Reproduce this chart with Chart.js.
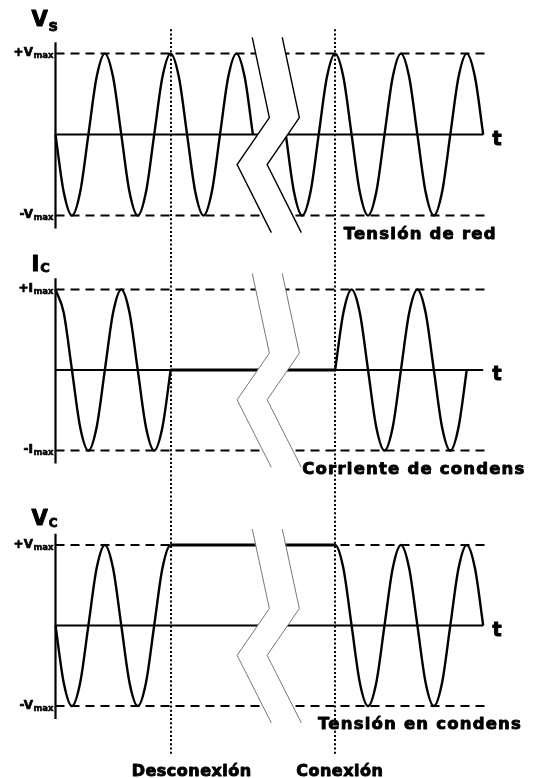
<!DOCTYPE html>
<html>

<head>
  <meta charset="UTF-8" />
  <title>Tensión y corriente del condensador</title>
  <script src="https://cdn.jsdelivr.net/npm/chart.js"></script>
  <style>
    body { margin: 0; background: #fff; }
    .wrap { position: relative; width: 539px; height: 778px; }
  </style>
</head>

<body>
  <div class="wrap"><canvas id="chart"></canvas></div>
  <script>
    // tiempo en periodos de red (muestras cada 1/8 de periodo)
    const tLeft = [0, 0.125, 0.25, 0.375, 0.5, 0.625, 0.75, 0.875, 1, 1.125, 1.25, 1.375, 1.5, 1.625, 1.75, 1.875, 2, 2.125, 2.25, 2.375, 2.5, 2.625, 2.75, 2.875, 3];
    const tRight = [3.5, 3.625, 3.75, 3.875, 4, 4.125, 4.25, 4.375, 4.5, 4.625, 4.75, 4.875, 5, 5.125, 5.25, 5.375, 5.5, 5.625, 5.75, 5.875, 6, 6.125, 6.25, 6.375, 6.5];

    // Vs - tensión de red (normalizada a Vmax)
    const vsLeft = [0, -0.71, -1, -0.71, 0, 0.71, 1, 0.71, 0, -0.71, -1, -0.71, 0, 0.71, 1, 0.71, 0, -0.71, -1, -0.71, 0, 0.71, 1, 0.71, 0];
    const vsRight = [0, -0.71, -1, -0.71, 0, 0.71, 1, 0.71, 0, -0.71, -1, -0.71, 0, 0.71, 1, 0.71, 0, -0.71, -1, -0.71, 0, 0.71, 1, 0.71, 0];

    // Ic - corriente de condensador (normalizada a Imax)
    const tIcOn = [0, 0.125, 0.25, 0.375, 0.5, 0.625, 0.75, 0.875, 1, 1.125, 1.25, 1.375, 1.5, 1.625, 1.75];
    const icOn = [1, 0.71, 0, -0.71, -1, -0.71, 0, 0.71, 1, 0.71, 0, -0.71, -1, -0.71, 0];
    const tIcOff = [1.75, 4.25];
    const icOff = [0, 0];
    const tIcBack = [4.25, 4.375, 4.5, 4.625, 4.75, 4.875, 5, 5.125, 5.25, 5.375, 5.5, 5.625, 5.75, 5.875, 6, 6.125, 6.25];
    const icBack = [0, 0.71, 1, 0.71, 0, -0.71, -1, -0.71, 0, 0.71, 1, 0.71, 0, -0.71, -1, -0.71, 0];

    // Vc - tensión en condensador (se queda cargado a +Vmax mientras está desconectado)
    const tVc = [0, 0.125, 0.25, 0.375, 0.5, 0.625, 0.75, 0.875, 1, 1.125, 1.25, 1.375, 1.5, 1.625, 1.75,
      4.25, 4.375, 4.5, 4.625, 4.75, 4.875, 5, 5.125, 5.25, 5.375, 5.5, 5.625, 5.75, 5.875, 6, 6.125, 6.25, 6.375, 6.5];
    const vc = [0, -0.71, -1, -0.71, 0, 0.71, 1, 0.71, 0, -0.71, -1, -0.71, 0, 0.71, 1,
      1, 0.71, 0, -0.71, -1, -0.71, 0, 0.71, 1, 0.71, 0, -0.71, -1, -0.71, 0, 0.71, 1, 0.71, 0];

    // referencias
    const limitLevels = [1, -1];
    const limitT = [0, 6.6];
    const zeroT = [0, 6.5];
    const axisV = [1.14, -1.16];
    const eventT = [1.75, 4.25];
    const eventLabels = ['Desconexión', 'Conexión'];
    const breakT = [2.99, 3.25, 2.76, 3.28];
    const breakV = [1.2, 0.21, -0.37, -1.21];
    const breakGap = 0.456;

    // textos
    const symbols = [['V', 's'], ['I', 'C'], ['V', 'C']];
    const limitNames = [['+V', '-V'], ['+I', '-I'], ['+V', '-V']];
    const captions = ['Tensión de red', 'Corriente de condens', 'Tensión en condens'];

    // layout
    const W = 539, H = 778;
    const X0_PX = 55.5, PERIOD_PX = 65.8;
    const FONT = '"DejaVu Sans"';
    const PANELS = [
      { axis: 'y1', zero: 134.6, unit: 81, titleV: 1.34, subSize: 15, subDy: 5, capT: 4.38, brkColor: '#000', brkWidth: 1.4 },
      { axis: 'y2', zero: 370, unit: 80.5, titleV: 1.23, subSize: 13, subDy: 1, capT: 3.75, brkColor: '#777', brkWidth: 1 },
      { axis: 'y3', zero: 625.5, unit: 80.5, titleV: 1.25, subSize: 12, subDy: 2, capT: 3.99, brkColor: '#777', brkWidth: 1 }
    ];

    const pts = (ts, vs) => ts.map((t, i) => ({ x: t, y: vs[i] }));

    function trace(data, yAxisID, extra) {
      return Object.assign({
        data, yAxisID, showLine: true, pointRadius: 0, borderColor: '#000',
        borderWidth: 2, tension: 0, fill: false
      }, extra);
    }
    const wave = { borderWidth: 2.4, cubicInterpolationMode: 'monotone', borderJoinStyle: 'round', order: 3 };
    const flat = { borderWidth: 3.2, order: 3 };

    const datasets = [];
    PANELS.forEach(p => {
      limitLevels.forEach(lv => {
        datasets.push(trace(pts(limitT, [lv, lv]), p.axis, { borderDash: [9, 6], order: 4 }));
      });
      datasets.push(trace(pts(zeroT, [0, 0]), p.axis, { order: 4 }));
      datasets.push(trace(pts([0, 0], axisV), p.axis, { borderWidth: 2.2, order: 4 }));

      // corte del eje de tiempo: banda blanca en zigzag y sus dos bordes
      const edge1 = pts(breakT, breakV);
      const edge2 = breakT.map((t, k) => ({ x: t + breakGap, y: breakV[k] }));
      datasets.push(trace(edge1.concat(edge2.slice().reverse()), p.axis, {
        fill: 'shape', backgroundColor: '#fff', borderWidth: 0, order: 2
      }));
      datasets.push(trace(edge1, p.axis, { borderColor: p.brkColor, borderWidth: p.brkWidth, order: 1 }));
      datasets.push(trace(edge2, p.axis, { borderColor: p.brkColor, borderWidth: p.brkWidth, order: 1 }));
    });

    datasets.push(trace(pts(tLeft, vsLeft), 'y1', wave));
    datasets.push(trace(pts(tRight, vsRight), 'y1', wave));

    datasets.push(trace(pts(tIcOn, icOn), 'y2', wave));
    datasets.push(trace(pts(tIcOff, icOff), 'y2', flat));
    datasets.push(trace(pts(tIcBack, icBack), 'y2', wave));

    datasets.push(trace(pts(tVc, vc), 'y3', Object.assign({}, wave, {
      segment: { borderWidth: c => (c.p1.parsed.x - c.p0.parsed.x > 1 ? 3.2 : 2.4) }
    })));

    const scales = {
      x: { type: 'linear', display: false, min: -X0_PX / PERIOD_PX, max: (W - X0_PX) / PERIOD_PX }
    };
    PANELS.forEach(p => {
      scales[p.axis] = { type: 'linear', display: false, min: (p.zero - H) / p.unit, max: p.zero / p.unit };
    });

    // texto en negrita "gruesa" (relleno + trazo fino)
    function heavy(ctx, str, x, y, stroke) {
      ctx.fillText(str, x, y);
      ctx.lineWidth = stroke;
      ctx.strokeText(str, x, y);
    }

    const labelsPlugin = {
      id: 'labels',
      afterDatasetsDraw(chart) {
        const { ctx } = chart;
        const xs = chart.scales.x;
        const x0 = xs.getPixelForValue(0);
        ctx.save();

        // líneas punteadas de desconexión / conexión
        ctx.strokeStyle = '#000';
        ctx.lineWidth = 2;
        ctx.setLineDash([2, 2.2]);
        const top = chart.scales.y1.getPixelForValue(1.3);
        const bottom = chart.scales.y3.getPixelForValue(-1.6);
        eventT.forEach(t => {
          const px = Math.round(xs.getPixelForValue(t));
          ctx.beginPath();
          ctx.moveTo(px, top);
          ctx.lineTo(px, bottom);
          ctx.stroke();
        });
        ctx.setLineDash([]);

        ctx.fillStyle = '#000';
        ctx.lineJoin = 'round';
        ctx.textBaseline = 'alphabetic';
        PANELS.forEach((p, i) => {
          const ys = chart.scales[p.axis];

          // símbolo del panel
          ctx.textAlign = 'left';
          ctx.font = 'bold 21px ' + FONT;
          const ty = ys.getPixelForValue(p.titleV);
          heavy(ctx, symbols[i][0], x0 - 24, ty, 1);
          const w = ctx.measureText(symbols[i][0]).width;
          ctx.font = 'bold ' + p.subSize + 'px ' + FONT;
          heavy(ctx, symbols[i][1], x0 - 24 + w + 1, ty + p.subDy, 0.8);

          // +max / -max
          ctx.textAlign = 'right';
          limitLevels.forEach((lv, k) => {
            const ly = ys.getPixelForValue(lv);
            ctx.font = 'bold 8.5px ' + FONT;
            const sw = ctx.measureText('max').width;
            heavy(ctx, 'max', x0 - 2, ly + 4.5, 0.5);
            ctx.font = 'bold 12px ' + FONT;
            heavy(ctx, limitNames[i][k], x0 - 2.5 - sw, ly + 2.5, 0.7);
          });

          // eje t
          ctx.textAlign = 'left';
          ctx.font = 'bold 19px ' + FONT;
          heavy(ctx, 't', xs.getPixelForValue(6.64), ys.getPixelForValue(0) + 10, 1);

          // rótulo (cortado por la derecha como en el original)
          ctx.save();
          ctx.beginPath();
          ctx.rect(0, 0, xs.getPixelForValue(7.17), chart.height);
          ctx.clip();
          ctx.font = 'bold 16.5px ' + FONT;
          ctx.letterSpacing = '1.2px';
          heavy(ctx, captions[i], xs.getPixelForValue(p.capT), ys.getPixelForValue(-1) + 23, 0.9);
          ctx.restore();
        });

        // rótulos de eventos
        ctx.textAlign = 'left';
        ctx.font = 'bold 16px ' + FONT;
        ctx.letterSpacing = '0.5px';
        const by = chart.scales.y3.getPixelForValue(-1.87);
        eventT.forEach((t, k) => {
          heavy(ctx, eventLabels[k], xs.getPixelForValue(t) - 39, by, 0.9);
        });
        ctx.restore();
      }
    };

    new Chart(document.getElementById('chart'), {
      type: 'scatter',
      data: { datasets },
      options: {
        responsive: true,
        maintainAspectRatio: false,
        animation: false,
        events: [],
        layout: { padding: 0 },
        scales,
        plugins: {
          legend: { display: false },
          tooltip: { enabled: false }
        }
      },
      plugins: [labelsPlugin]
    });
  </script>
</body>

</html>
